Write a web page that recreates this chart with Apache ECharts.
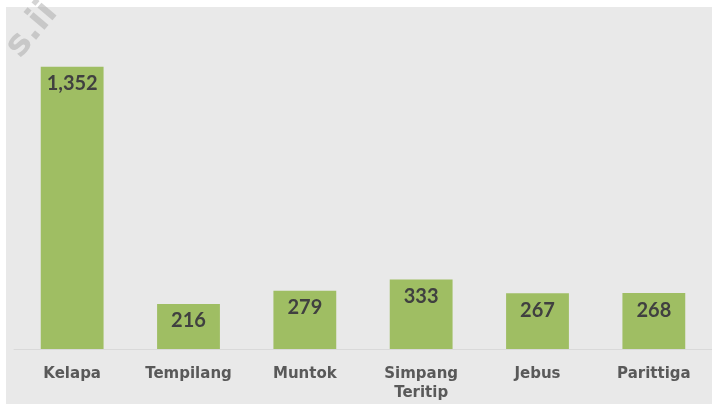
<!DOCTYPE html>
<html>
<head>
<meta charset="utf-8">
<script src="https://cdn.jsdelivr.net/npm/echarts@6/dist/echarts.min.js"></script>
<style>
  html, body { margin: 0; padding: 0; background: #fff; }
  #chart { width: 712px; height: 405px; }
</style>
</head>
<body>
<div id="chart"></div>
<script>
// kategori (kecamatan)
var categories = ['Kelapa', 'Tempilang', 'Muntok', 'Simpang\nTeritip', 'Jebus', 'Parittiga'];
// nilai batang
var values = [1352, 216, 279, 333, 267, 268];

var myChart = echarts.init(document.getElementById('chart'));

myChart.setOption({
  animation: false,
  graphic: [
    {
      type: 'rect',
      shape: { x: 6, y: 7, width: 706, height: 397 },
      style: { fill: '#e9e9e9' },
      z: -10
    },
    {
      // watermark potongan di pojok kiri atas
      type: 'text',
      x: 32, y: 30,
      rotation: 0.87,
      style: {
        text: 's.ii',
        fill: 'rgba(160,160,160,0.45)',
        font: 'bold 36px "DejaVu Sans"',
        align: 'center',
        verticalAlign: 'middle'
      },
      z: 5
    }
  ],
  grid: { left: 14, right: -2, top: 15, bottom: 56 },
  xAxis: {
    type: 'category',
    data: categories,
    axisLine: { lineStyle: { color: '#d9d9d9', width: 1 } },
    axisTick: { show: false },
    axisLabel: {
      margin: 16,
      color: '#595959',
      fontFamily: 'DejaVu Sans',
      fontWeight: 'bold',
      fontSize: 15,
      lineHeight: 19
    }
  },
  yAxis: {
    type: 'value',
    min: 0,
    max: 1600,
    show: false,
    splitLine: { show: false }
  },
  series: [
    {
      type: 'bar',
      data: values,
      barWidth: '54%',
      itemStyle: { color: '#9fbe63' },
      label: {
        show: true,
        position: 'insideTop',
        distance: 7,
        color: '#404040',
        fontFamily: 'Lato',
        fontWeight: 'bold',
        fontSize: 20,
        formatter: function (p) {
          return p.value.toLocaleString('en-US');
        }
      }
    }
  ]
});
</script>
</body>
</html>
